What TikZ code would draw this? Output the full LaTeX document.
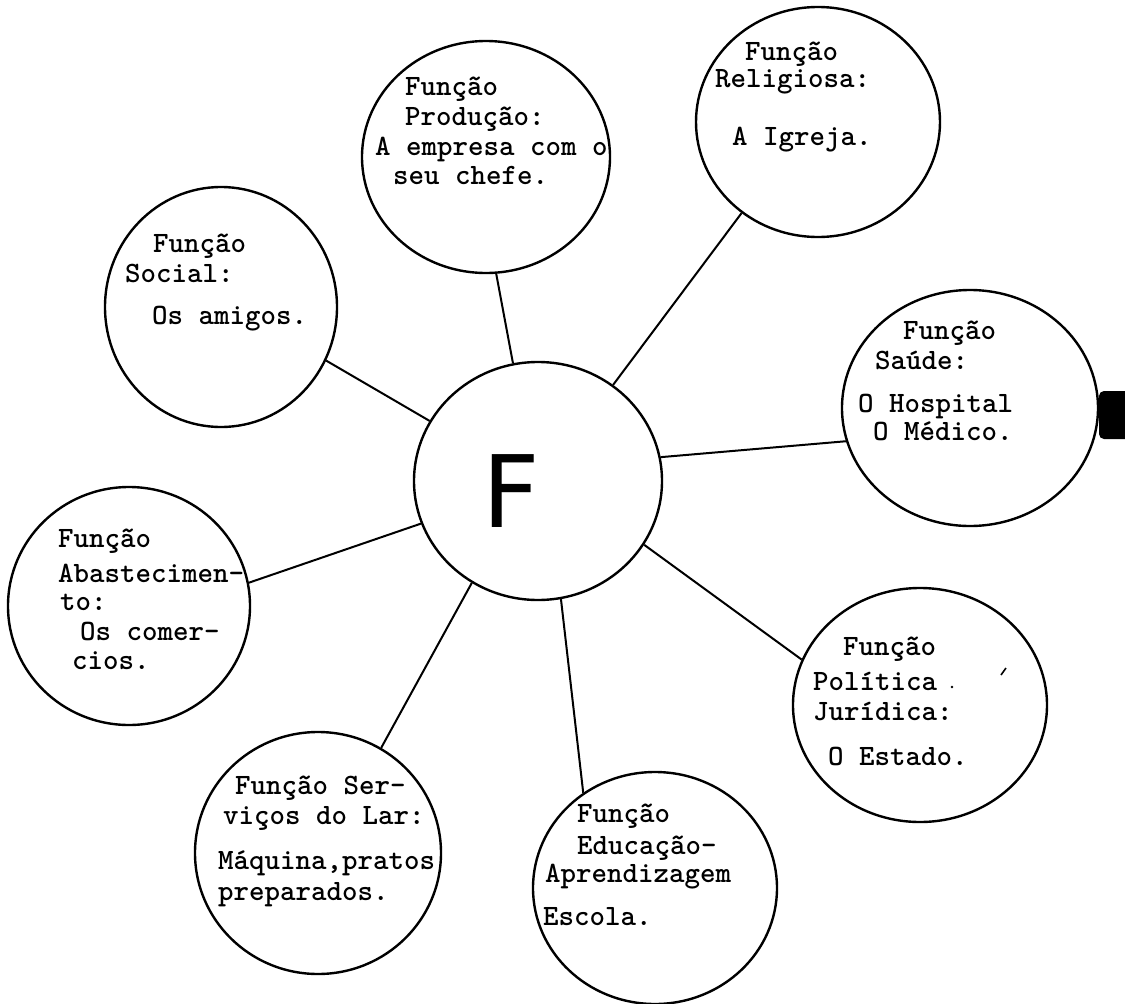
\documentclass[tikz,border=0pt]{standalone}
\usepackage{fontspec}
\newfontfamily\hand{DejaVu Sans}
\newfontfamily\tw{lmmonolt10-bold}[Extension=.otf]
\usetikzlibrary{shapes.geometric}
\begin{document}
\begin{tikzpicture}[x=1pt,y=-1pt,
  bub/.style={ellipse, draw, line width=2.4pt, inner sep=0pt},
  txt/.style={anchor=base west, inner sep=0pt, font=\tw\fontsize{29.5}{30}\selectfont},
  link/.style={line width=2pt}]
\useasboundingbox (0,0) rectangle (1125,1004);

% bubbles
\node[bub, minimum width=248pt, minimum height=238pt] (C) at (538,481) {};
\node[font=\hand\fontsize{100}{100}\selectfont, inner sep=0pt] (Fl) at (511,491) {F};
\node[bub, minimum width=248pt, minimum height=232pt] (P) at (486,157) {};
\node[bub, minimum width=244pt, minimum height=230pt] (R) at (818,122) {};
\node[bub, minimum width=232pt, minimum height=240pt] (S) at (221,307) {};
\node[bub, minimum width=256pt, minimum height=236pt] (H) at (970,408) {};
\node[bub, minimum width=242pt, minimum height=238pt] (A) at (129,606) {};
\node[bub, minimum width=246pt, minimum height=242pt] (L) at (318,853) {};
\node[bub, minimum width=244pt, minimum height=232pt] (E) at (655,888) {};
\node[bub, minimum width=254pt, minimum height=234pt] (J) at (920,705) {};

% connectors
\draw[link] (P.-85.6) -- (C.102.3);
\draw[link] (R.230.6) -- (C.52.9);
\draw[link] (S.-27.4) -- (C.151.2);
\draw[link] (H.195) -- (C.11.1);
\draw[link] (A.11.4) -- (C.200.4);
\draw[link] (L.59.7) -- (C.237.6);
\draw[link] (E.127.4) -- (C.-79.6);
\draw[link] (J.159.4) -- (C.-31.6);

% texts: Producao
\node[txt] (p1) at (405,95) {Função};
\node[txt] (p2) at (405,125) {Produção:};
\node[txt] (p3) at (375,155) {A empresa com o};
\node[txt] (p4) at (393,184) {seu chefe.};
% Religiosa
\node[txt] (r1) at (745,60) {Função};
\node[txt] (r2) at (715,87) {Religiosa:};
\node[txt] (r3) at (732,145) {A Igreja.};
% Social
\node[txt] (s1) at (153,252) {Função};
\node[txt] (s2) at (125,282) {Social:};
\node[txt] (s3) at (152,324) {Os amigos.};
% Saude
\node[txt] (h1) at (903,339) {Função};
\node[txt] (h2) at (875,369) {Saúde:};
\node[txt] (h3) at (858,412) {O Hospital};
\node[txt] (h4) at (873,440) {O Médico.};
% Abastecimento
\node[txt] (a1) at (58,547) {Função};
\node[txt] (a2) at (58,582) {Abastecimen-};
\node[txt] (a3) at (60,610) {to:};
\node[txt] (a4) at (80,640) {Os comer-};
\node[txt] (a5) at (72,669) {cios.};
% Servicos
\node[txt] (l1) at (235,794) {Função Ser-};
\node[txt] (l2) at (223,824) {viços do Lar:};
\node[txt] (l3) at (218,869) {Máquina,pratos};
\node[txt] (l4) at (218,900) {preparados.};
% Educacao
\node[txt] (e1) at (577,822) {Função};
\node[txt] (e2) at (577,854) {Educação-};
\node[txt] (e3) at (545,882) {Aprendizagem};
\node[txt] (e4) at (543,925) {Escola.};
% Politica
\node[txt] (j1) at (843,655) {Função};
\node[txt] (j2) at (813,690) {Política};
\node[txt] (j3) at (813,720) {Jurídica:};
\node[txt] (j4) at (828,765) {O Estado.};

% scan marks
\fill[rounded corners=5pt] (1099,391) rectangle (1135,439);
\fill (952,687) circle (1.3pt);
\draw[line width=1.6pt] (1001,675) -- (1006,668);
\end{tikzpicture}
\end{document}
